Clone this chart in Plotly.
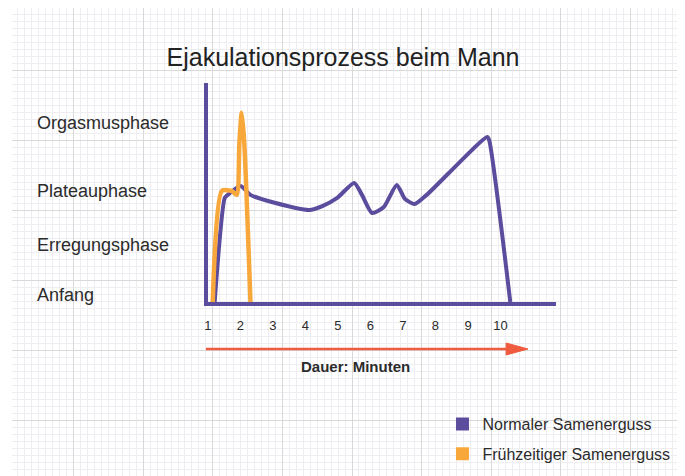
import plotly.graph_objects as go

W, H = 685, 476
OFF = 8  # page body margin; screen position = figure position + OFF

# Data (x = minutes, y = arousal level)
normal_x = [1.21, 1.52, 1.61, 2.01, 2.31, 3.08, 4.12, 4.52, 4.98, 5.50, 5.74, 6.05, 6.41, 6.81, 7.06, 7.36, 7.73, 9.59, 9.65, 10.30]
normal_y = [0.0, 5.23, 5.38, 5.83, 5.38, 4.97, 4.62, 4.82, 5.23, 5.98, 5.38, 4.47, 4.77, 5.88, 5.18, 4.92, 5.38, 8.29, 8.14, 0.0]

early_x = [1.15, 1.43, 1.73, 1.89, 1.97, 2.04, 2.12, 2.31]
early_y = [0.0, 5.58, 5.58, 5.38, 8.0, 9.5, 8.0, 0.0]

minute_ticks = [1, 2, 3, 4, 5, 6, 7, 8, 9, 10]
phase_labels = ["Anfang", "Erregungsphase", "Plateauphase", "Orgasmusphase"]
phase_levels = [0.35, 2.85, 5.6, 9.0]

series_names = ["Normaler Samenerguss", "Frühzeitiger Samenerguss"]

PURPLE = "#5b4c9d"
ORANGE = "#f8a73b"
ARROW = "#ee5b3f"
TEXT = "#2b2b2b"
FONT = "Liberation Sans, Arial, sans-serif"


def px(sx):
    return (sx - OFF) / W


def py(sy):
    return (H + OFF - sy) / H


fig = go.Figure()

# invisible trace so the background (graph paper) subplot exists
fig.add_trace(go.Scatter(x=[100], y=[100], mode="markers", marker=dict(opacity=0),
                         showlegend=False, hoverinfo="skip", xaxis="x", yaxis="y"))

fig.add_trace(go.Scatter(x=normal_x, y=normal_y, mode="lines",
                         line=dict(color=PURPLE, width=4, shape="spline", smoothing=0.6),
                         showlegend=False, xaxis="x2", yaxis="y2"))
fig.add_trace(go.Scatter(x=early_x, y=early_y, mode="lines",
                         line=dict(color=ORANGE, width=4.5, shape="spline", smoothing=0.6),
                         showlegend=False, xaxis="x2", yaxis="y2"))

# legend entries as squares
for name, col in zip(series_names, [PURPLE, ORANGE]):
    fig.add_trace(go.Scatter(x=[None], y=[None], mode="markers", name=name,
                             legendgroup=name,
                             marker=dict(symbol="square", size=13, color=col),
                             xaxis="x2", yaxis="y2"))

# phase labels on the left
for lab, lev in zip(phase_labels, phase_levels):
    fig.add_annotation(text=lab, xref="paper", x=px(31), xanchor="left",
                       yref="y2", y=lev, yanchor="middle", showarrow=False,
                       font=dict(size=18, color=TEXT, family=FONT))

fig.add_annotation(text="<b>Dauer: Minuten</b>", xref="paper", yref="paper",
                   x=px(354), y=py(366), xanchor="center", yanchor="middle", showarrow=False,
                   font=dict(size=15, color=TEXT, family=FONT))

# time arrow (screen pixel coordinates on the background axes)
fig.add_shape(type="line", xref="x", yref="y", x0=203, x1=510, y0=349, y1=349,
              line=dict(color=ARROW, width=2.5))
fig.add_shape(type="path", xref="x", yref="y", path="M 505 343 L 527 349 L 505 355 Z",
              fillcolor=ARROW, line=dict(color=ARROW, width=1))

fig.update_layout(
    width=W, height=H,
    margin=dict(l=0, r=0, t=0, b=0),
    paper_bgcolor="white",
    plot_bgcolor="rgba(0,0,0,0)",
    font=dict(family=FONT, color=TEXT),
    title=dict(text="Ejakulationsprozess beim Mann", x=px(343), xanchor="center",
               y=py(57), yanchor="middle",
               font=dict(size=25, color="#222222", family=FONT)),
    # background graph paper, axis units = screen pixels
    xaxis=dict(domain=[0, 1], range=[OFF, W + OFF], showticklabels=False, zeroline=False,
               tick0=0, dtick=70, gridcolor="#d9d9d9", gridwidth=1,
               minor=dict(tick0=0, dtick=7, showgrid=True, gridcolor="#eeeef2", gridwidth=1),
               fixedrange=True),
    yaxis=dict(domain=[0, 1], range=[H + OFF, OFF], showticklabels=False, zeroline=False,
               tick0=0, dtick=70, gridcolor="#d9d9d9", gridwidth=1,
               minor=dict(tick0=0, dtick=7, showgrid=True, gridcolor="#eeeef2", gridwidth=1),
               fixedrange=True),
    # chart axes
    xaxis2=dict(domain=[px(205), px(555)], range=[1, 11.70], anchor="y2",
                showgrid=False, zeroline=False, showline=True, linecolor=PURPLE, linewidth=3.5,
                tickvals=minute_ticks, ticktext=[str(t) for t in minute_ticks],
                ticks="outside", ticklen=9, tickcolor="rgba(0,0,0,0)",
                tickfont=dict(size=13, color=TEXT, family=FONT)),
    yaxis2=dict(domain=[py(302), py(83)], range=[0, 11.0], anchor="x2",
                showgrid=False, zeroline=False, showline=True, linecolor=PURPLE, linewidth=3.5,
                showticklabels=False, ticks=""),
    legend=dict(x=px(441), y=py(407), xanchor="left", yanchor="top",
                bgcolor="rgba(0,0,0,0)", tracegroupgap=6,
                font=dict(size=16, color=TEXT, family=FONT)),
    showlegend=True,
)

fig.write_html("out.html")
